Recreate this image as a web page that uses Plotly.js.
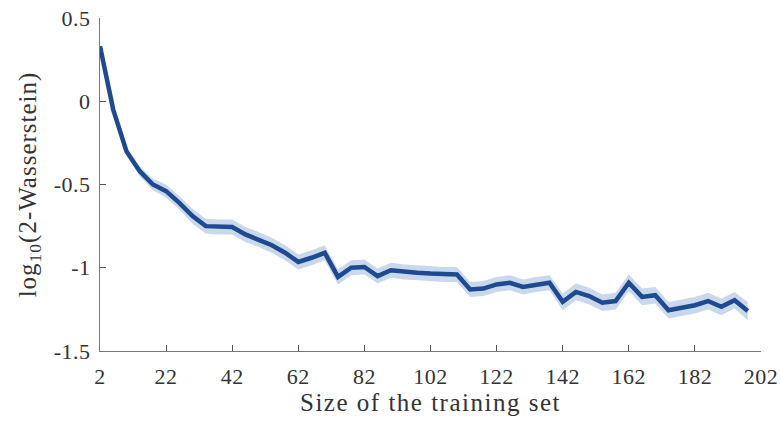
<!DOCTYPE html>
<html>
<head>
<meta charset="utf-8">
<script src="https://cdn.plot.ly/plotly-3.0.1.min.js"></script>
<style>
html,body{margin:0;padding:0;background:#fff;}
#chart{width:781px;height:425px;}
#chart .xtitle{letter-spacing:1.5px;}
#chart .ytitle{letter-spacing:1px;}
#chart .xtick text,#chart .ytick text{letter-spacing:0.5px;}
</style>
</head>
<body>
<div id="chart"></div>
<script>
// Training set sizes
const trainingSize = [2,6,10,14,18,22,26,30,34,38,42,46,50,54,58,62,66,70,74,78,82,86,90,94,98,102,106,110,114,118,122,126,130,134,138,142,146,150,154,158,162,166,170,174,178,182,186,190,194,198];
// Mean log10(2-Wasserstein)
const meanLogW2 = [0.33,-0.05,-0.30,-0.42,-0.50,-0.54,-0.61,-0.69,-0.75,-0.755,-0.755,-0.80,-0.83,-0.865,-0.91,-0.965,-0.94,-0.91,-1.055,-1.00,-0.995,-1.05,-1.015,-1.025,-1.03,-1.035,-1.04,-1.04,-1.13,-1.125,-1.10,-1.09,-1.115,-1.10,-1.09,-1.205,-1.145,-1.17,-1.21,-1.20,-1.09,-1.175,-1.165,-1.255,-1.24,-1.225,-1.20,-1.235,-1.195,-1.26];
// Half-width of shaded band (estimated)
const bandHalf = [0.01,0.012,0.02,0.03,0.035,0.04,0.04,0.045,0.045,0.045,0.045,0.045,0.045,0.045,0.045,0.045,0.045,0.045,0.045,0.045,0.045,0.045,0.045,0.045,0.045,0.045,0.045,0.045,0.045,0.045,0.045,0.045,0.045,0.045,0.045,0.05,0.05,0.05,0.05,0.05,0.05,0.05,0.05,0.05,0.05,0.05,0.05,0.05,0.05,0.055];
const xTicks = [2,22,42,62,82,102,122,142,162,182,202];
const yTicks = [0.5,0,-0.5,-1,-1.5];
const yTickText = ['0.5','0','-0.5','-1','-1.5'];

const upper = meanLogW2.map((v,i)=>v+bandHalf[i]);
const lower = meanLogW2.map((v,i)=>v-bandHalf[i]);

const font = "'Liberation Serif', 'Times New Roman', serif";
const traces = [
  {x: trainingSize, y: upper, mode:'lines', line:{width:0, color:'rgba(0,0,0,0)'}, hoverinfo:'skip', showlegend:false},
  {x: trainingSize, y: lower, mode:'lines', line:{width:0, color:'rgba(0,0,0,0)'}, fill:'tonexty', fillcolor:'rgba(196,212,233,0.9)', hoverinfo:'skip', showlegend:false},
  {x: trainingSize, y: meanLogW2, mode:'lines', line:{color:'#1d4a90', width:4.5}, showlegend:false}
];
const layout = {
  width:781, height:425,
  margin:{l:100, r:20, t:18, b:74},
  paper_bgcolor:'#fff', plot_bgcolor:'#fff',
  font:{family:font, size:22, color:'#333'},
  xaxis:{range:[2,202], tickvals:xTicks, ticktext:xTicks.map(String), ticks:'inside', ticklen:6, tickcolor:'#555',
         showline:true, linecolor:'#777', linewidth:1, showgrid:false, zeroline:false, mirror:false,
         ticklabelstandoff:6,
         tickfont:{family:font, size:22, color:'#333'},
         title:{text:'Size of the training set', font:{family:font, size:25, color:'#333'}, standoff:4}},
  yaxis:{range:[-1.5,0.5], tickvals:yTicks, ticktext:yTickText, ticks:'inside', ticklen:6, tickcolor:'#555',
         showline:true, linecolor:'#777', linewidth:1, showgrid:false, zeroline:false, mirror:false,
         ticklabelstandoff:4,
         tickfont:{family:font, size:22, color:'#333'},
         title:{text:'log<sub>10</sub>(2-Wasserstein)', font:{family:font, size:25, color:'#333'}, standoff:12}},
  showlegend:false
};
Plotly.newPlot('chart', traces, layout, {staticPlot:true, displayModeBar:false});
</script>
</body>
</html>
